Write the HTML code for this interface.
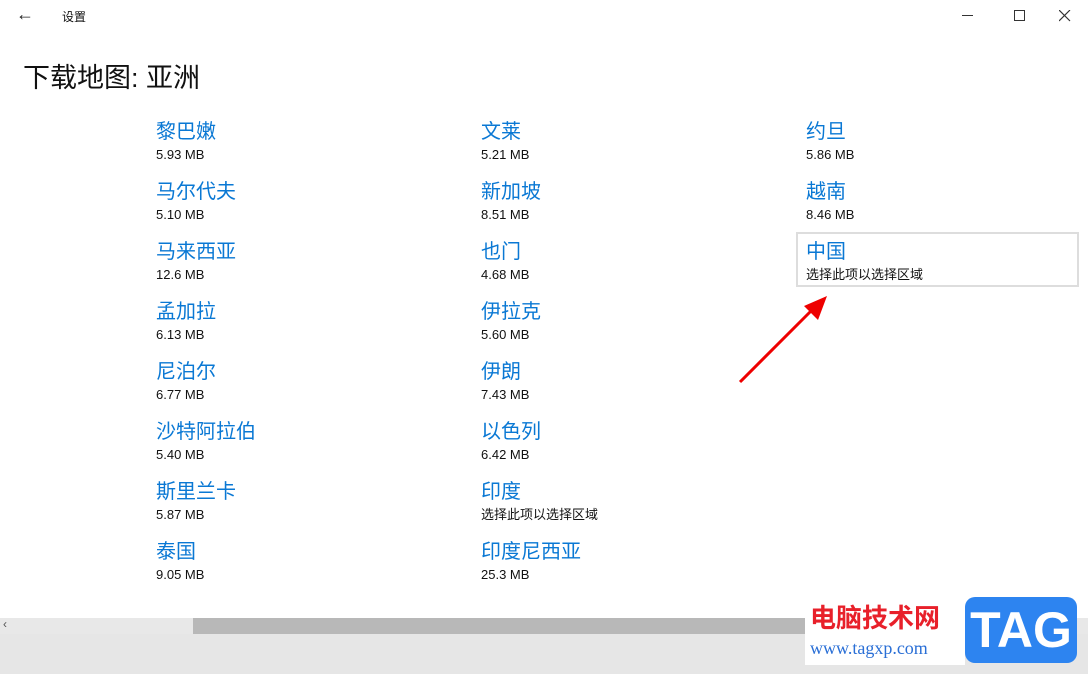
<!DOCTYPE html>
<html><head><meta charset="utf-8"><style>
body{margin:0;width:1088px;height:674px;background:#fff;position:relative;overflow:hidden;font-family:"Liberation Sans","Noto Sans CJK SC",sans-serif}
.a{position:absolute}
.n{position:absolute;font-size:20px;color:#0a78d4;line-height:24px;white-space:nowrap;margin-top:2px}
.s{position:absolute;font-size:13px;color:#111;line-height:16px;white-space:nowrap}
</style></head><body>
<div class="a" style="left:16px;top:4px;font-size:18px;color:#222">←</div>
<div class="a" style="left:62px;top:8px;font-size:12px;color:#111">设置</div>
<div class="a" style="left:962px;top:15px;width:11px;height:1px;background:#333"></div>
<div class="a" style="left:1014px;top:10px;width:9px;height:9px;border:1px solid #333"></div>
<svg class="a" style="left:1059px;top:10px" width="12" height="12"><path d="M0 0L11 11M11 0L0 11" stroke="#333" stroke-width="1.2"/></svg>
<div class="a" style="left:23px;top:56px;font-size:27px;color:#111">下载地图: 亚洲</div>

<div class="n" style="left:156px;top:118px">黎巴嫩</div><div class="s" style="left:156px;top:147px">5.93 MB</div>
<div class="n" style="left:156px;top:178px">马尔代夫</div><div class="s" style="left:156px;top:207px">5.10 MB</div>
<div class="n" style="left:156px;top:238px">马来西亚</div><div class="s" style="left:156px;top:267px">12.6 MB</div>
<div class="n" style="left:156px;top:298px">孟加拉</div><div class="s" style="left:156px;top:327px">6.13 MB</div>
<div class="n" style="left:156px;top:358px">尼泊尔</div><div class="s" style="left:156px;top:387px">6.77 MB</div>
<div class="n" style="left:156px;top:418px">沙特阿拉伯</div><div class="s" style="left:156px;top:447px">5.40 MB</div>
<div class="n" style="left:156px;top:478px">斯里兰卡</div><div class="s" style="left:156px;top:507px">5.87 MB</div>
<div class="n" style="left:156px;top:538px">泰国</div><div class="s" style="left:156px;top:567px">9.05 MB</div>

<div class="n" style="left:481px;top:118px">文莱</div><div class="s" style="left:481px;top:147px">5.21 MB</div>
<div class="n" style="left:481px;top:178px">新加坡</div><div class="s" style="left:481px;top:207px">8.51 MB</div>
<div class="n" style="left:481px;top:238px">也门</div><div class="s" style="left:481px;top:267px">4.68 MB</div>
<div class="n" style="left:481px;top:298px">伊拉克</div><div class="s" style="left:481px;top:327px">5.60 MB</div>
<div class="n" style="left:481px;top:358px">伊朗</div><div class="s" style="left:481px;top:387px">7.43 MB</div>
<div class="n" style="left:481px;top:418px">以色列</div><div class="s" style="left:481px;top:447px">6.42 MB</div>
<div class="n" style="left:481px;top:478px">印度</div><div class="s" style="left:481px;top:507px">选择此项以选择区域</div>
<div class="n" style="left:481px;top:538px">印度尼西亚</div><div class="s" style="left:481px;top:567px">25.3 MB</div>

<div class="n" style="left:806px;top:118px">约旦</div><div class="s" style="left:806px;top:147px">5.86 MB</div>
<div class="n" style="left:806px;top:178px">越南</div><div class="s" style="left:806px;top:207px">8.46 MB</div>
<div class="a" style="left:796px;top:232px;width:283px;height:55px;border:2px solid #ddd;box-sizing:border-box"></div>
<div class="n" style="left:806px;top:238px">中国</div><div class="s" style="left:806px;top:267px">选择此项以选择区域</div>

<svg class="a" style="left:0;top:0" width="1088" height="674">
<line x1="740" y1="382" x2="812" y2="310" stroke="#e00" stroke-width="3"/>
<polygon points="827,296 818,320 804,306" fill="#e00"/>
</svg>

<div class="a" style="left:0;top:618px;width:1088px;height:16px;background:#e8e8e8"></div>
<div class="a" style="left:193px;top:618px;width:612px;height:16px;background:#b8b8b8"></div>
<div class="a" style="left:3px;top:617px;font-size:12px;color:#555">‹</div>
<div class="a" style="left:0;top:634px;width:1088px;height:40px;background:#e6e6e6"></div>
<div class="a" style="left:805px;top:605px;width:160px;height:60px;background:#fff"></div>
<div class="a" style="left:810px;top:598px;font-size:26px;font-weight:bold;color:#e8202a">电脑技术网</div>
<div class="a" style="left:810px;top:638px;font-size:18px;color:#2a6fd6;font-family:'Liberation Serif',serif">www.tagxp.com</div>
<div class="a" style="left:965px;top:597px;width:112px;height:66px;background:#2d84f0;border-radius:10px;color:#fff;font-size:50px;font-weight:bold;text-align:center;line-height:66px">TAG</div>
</body></html>
